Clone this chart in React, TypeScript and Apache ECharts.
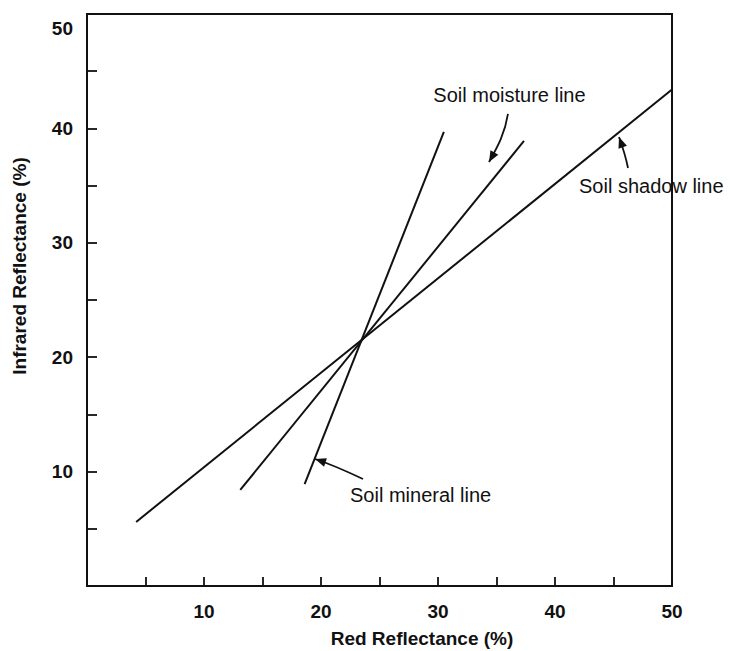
import React, { useEffect, useRef } from "react";
import * as echarts from "echarts";

// Lines (Red reflectance %, Infrared reflectance %)
const soilShadowLine: number[][] = [[4.2, 5.6], [50, 43.4]];
const soilMoistureLine: number[][] = [[13.1, 8.4], [37.35, 38.9]];
const soilMineralLine: number[][] = [[18.6, 8.9], [30.5, 39.7]];

// Annotation labels: [text, x, y] in data coordinates (left edge, vertical middle)
const labelTexts = ["Soil moisture line", "Soil shadow line", "Soil mineral line"];
const labelAnchors: number[][] = [[29.6, 42.9], [42.05, 35.0], [22.48, 7.95]];

// Arrow curves in data coordinates: start, control1, control2, tip
const arrowCurves: number[][][] = [
  [[35.98, 41.26], [35.73, 39.6], [35.13, 38.46], [34.36, 37.06]],
  [[46.24, 36.54], [46.07, 37.41], [45.81, 38.29], [45.47, 39.25]],
  [[23.59, 9.35], [22.31, 9.97], [21.03, 10.58], [19.49, 11.1]],
];

const xTicks = [0, 50, 5];
const yTicks = [0, 50, 5];
const xTitle = "Red Reflectance (%)";
const yTitle = "Infrared Reflectance (%)";

const INK = "#111";
const FONT = "'Liberation Sans', Arial, Helvetica, sans-serif";

export default function App() {
  const ref = useRef<HTMLDivElement>(null);
  useEffect(() => {
    if (!ref.current) return;
    const chart = echarts.init(ref.current, undefined, { renderer: "svg" });
    const lineSeries = (name: string, data: number[][]) => ({
      type: "line",
      name,
      data,
      symbol: "none",
      silent: true,
      lineStyle: { color: INK, width: 2 },
      emphasis: { disabled: true },
    });
    chart.setOption({
      animation: false,
      backgroundColor: "#fff",
      grid: {
        left: 87,
        right: 58,
        top: 14,
        bottom: 65,
        show: true,
        borderColor: INK,
        borderWidth: 2,
        backgroundColor: "transparent",
      },
      xAxis: {
        type: "value",
        min: xTicks[0],
        max: xTicks[1],
        interval: xTicks[2],
        axisLine: { onZero: false, lineStyle: { color: INK, width: 2 } },
        axisTick: { inside: true, length: 9, lineStyle: { color: INK, width: 1.8 } },
        splitLine: { show: false },
        axisLabel: {
          margin: 16,
          color: INK,
          fontSize: 19,
          fontWeight: "bold",
          fontFamily: FONT,
          formatter: (v: number) => (v % 10 === 0 && v !== 0 ? String(v) : ""),
        },
      },
      yAxis: {
        type: "value",
        min: yTicks[0],
        max: yTicks[1],
        interval: yTicks[2],
        axisLine: { show: true, onZero: false, lineStyle: { color: INK, width: 2 } },
        axisTick: { show: true, inside: true, length: 10, lineStyle: { color: INK, width: 1.8 } },
        splitLine: { show: false },
        axisLabel: {
          margin: 14,
          color: INK,
          fontSize: 19,
          fontWeight: "bold",
          fontFamily: FONT,
          formatter: (v: number) => (v % 10 === 0 && v !== 0 && v !== 50 ? String(v) : ""),
        },
      },
      series: [
        lineSeries("Soil shadow line", soilShadowLine),
        lineSeries("Soil moisture line", soilMoistureLine),
        lineSeries("Soil mineral line", soilMineralLine),
      ],
    });

    const px = (p: number[]) => chart.convertToPixel({ xAxisIndex: 0, yAxisIndex: 0 }, p) as number[];
    const graphics: any[] = [];

    labelTexts.forEach((t, i) => {
      const p = px(labelAnchors[i]);
      graphics.push({
        type: "text",
        x: p[0],
        y: p[1],
        silent: true,
        style: { text: t, fill: INK, font: `20px ${FONT}`, align: "left", verticalAlign: "middle" },
      });
    });

    arrowCurves.forEach((c) => {
      const [s, c1, c2, e] = c.map(px);
      graphics.push({
        type: "bezierCurve",
        silent: true,
        shape: { x1: s[0], y1: s[1], cpx1: c1[0], cpy1: c1[1], cpx2: c2[0], cpy2: c2[1], x2: e[0], y2: e[1] },
        style: { stroke: INK, lineWidth: 1.8, fill: null },
      });
      const dx = e[0] - c2[0];
      const dy = e[1] - c2[1];
      const len = Math.hypot(dx, dy) || 1;
      const ux = dx / len;
      const uy = dy / len;
      const bx = e[0] - ux * 11;
      const by = e[1] - uy * 11;
      const w = 4.5;
      graphics.push({
        type: "polygon",
        silent: true,
        shape: {
          points: [
            [e[0], e[1]],
            [bx - uy * w, by + ux * w],
            [bx + uy * w, by - ux * w],
          ],
        },
        style: { fill: INK },
      });
    });

    // Top y tick label (placed slightly below the top edge, as in the original)
    const p50 = px([0, 48.7]);
    graphics.push({
      type: "text",
      x: p50[0] - 14,
      y: p50[1],
      silent: true,
      style: { text: "50", fill: INK, font: `bold 19px ${FONT}`, align: "right", verticalAlign: "middle" },
    });

    // Axis titles
    graphics.push({
      type: "text",
      x: 422,
      y: 638,
      silent: true,
      style: { text: xTitle, fill: INK, font: `bold 19px ${FONT}`, align: "center", verticalAlign: "middle" },
    });
    graphics.push({
      type: "text",
      x: 19,
      y: 266,
      rotation: Math.PI / 2,
      silent: true,
      style: { text: yTitle, fill: INK, font: `bold 19px ${FONT}`, align: "center", verticalAlign: "middle" },
    });

    chart.setOption({ graphic: graphics });

    return () => chart.dispose();
  }, []);

  return (
    <div
      ref={ref}
      style={{ position: "fixed", left: 0, top: 0, width: 730, height: 651, background: "#fff" }}
    />
  );
}
